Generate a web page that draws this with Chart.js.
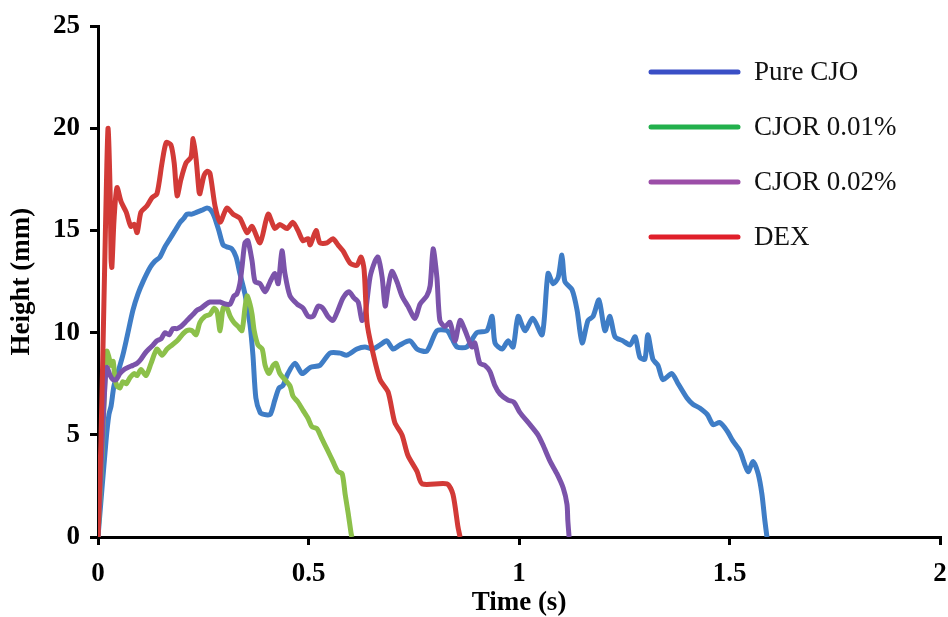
<!DOCTYPE html>
<html>
<head>
<meta charset="utf-8">
<title>Height vs time</title>
<script src="https://cdn.jsdelivr.net/npm/chart.js@4.4.1/dist/chart.umd.min.js"></script>
<style>
  html, body { margin: 0; padding: 0; background: #fff; }
  #wrap { width: 948px; height: 617px; position: relative; }
</style>
</head>
<body>
<div id="wrap"><canvas id="heightChart"></canvas></div>
<script>
// series names, line colours, legend swatch colours
const seriesNames = ['Pure CJO', 'CJOR 0.01%', 'CJOR 0.02%', 'DEX'];
const lineColors = ['#3f7dc6', '#8cc04a', '#7b53aa', '#d23a37'];
const legendColors = ['#3a4fc6', '#22b04c', '#9c4ea8', '#e01f2a'];

const timeTicks = ['0', '0.5', '1', '1.5', '2'];
const heightTicks = ['0', '5', '10', '15', '20', '25'];

// Pure CJO
const cjoTime = [0, 0.019, 0.026, 0.031, 0.038, 0.048, 0.059, 0.069, 0.083, 0.095, 0.107, 0.124, 0.135, 0.147, 0.159, 0.171, 0.183, 0.195, 0.204, 0.211, 0.223, 0.235, 0.247, 0.259, 0.268, 0.276, 0.287, 0.297, 0.306, 0.318, 0.328, 0.337, 0.349, 0.361, 0.368, 0.375, 0.385, 0.394, 0.409, 0.420, 0.430, 0.439, 0.451, 0.468, 0.485, 0.504, 0.527, 0.551, 0.575, 0.591, 0.615, 0.634, 0.653, 0.670, 0.686, 0.701, 0.717, 0.741, 0.758, 0.781, 0.805, 0.829, 0.841, 0.853, 0.876, 0.900, 0.924, 0.936, 0.943, 0.960, 0.974, 0.986, 0.998, 1.014, 1.033, 1.055, 1.069, 1.081, 1.093, 1.102, 1.109, 1.126, 1.138, 1.150, 1.164, 1.176, 1.190, 1.204, 1.216, 1.228, 1.247, 1.264, 1.276, 1.287, 1.299, 1.306, 1.318, 1.330, 1.342, 1.363, 1.378, 1.399, 1.413, 1.430, 1.447, 1.461, 1.477, 1.494, 1.508, 1.525, 1.544, 1.556, 1.568, 1.577, 1.584, 1.589];
const cjoHeight = [0, 4.7, 6.0, 6.4, 7.4, 8.1, 8.9, 9.8, 11.1, 11.9, 12.5, 13.2, 13.5, 13.7, 14.2, 14.6, 15.0, 15.4, 15.6, 15.8, 15.8, 15.9, 16.0, 16.1, 16.0, 15.7, 15.0, 14.3, 14.2, 14.1, 13.7, 12.9, 11.9, 10.4, 8.9, 6.8, 6.1, 6.0, 6.0, 6.7, 7.3, 7.4, 8.0, 8.5, 8.0, 8.3, 8.4, 9.0, 9.0, 8.9, 9.2, 9.3, 9.2, 9.4, 9.6, 9.2, 9.4, 9.6, 9.2, 9.1, 10.1, 10.1, 9.7, 9.3, 9.3, 10.0, 10.1, 10.8, 9.5, 9.2, 9.6, 9.3, 10.8, 10.1, 10.7, 9.9, 12.9, 12.4, 12.7, 13.8, 12.5, 12.1, 11.1, 9.5, 10.6, 10.8, 11.6, 10.1, 10.8, 9.8, 9.6, 9.4, 9.8, 8.8, 8.7, 9.9, 8.7, 8.4, 7.7, 8.0, 7.5, 6.8, 6.5, 6.3, 6.0, 5.5, 5.6, 5.2, 4.7, 4.2, 3.2, 3.7, 3.1, 2.1, 0.8, 0];

// CJOR 0.01%
const cjor1Time = [0, 0.010, 0.017, 0.021, 0.026, 0.031, 0.036, 0.040, 0.045, 0.052, 0.059, 0.067, 0.076, 0.086, 0.093, 0.102, 0.114, 0.126, 0.140, 0.152, 0.164, 0.176, 0.188, 0.200, 0.211, 0.223, 0.233, 0.242, 0.254, 0.266, 0.276, 0.283, 0.290, 0.297, 0.304, 0.314, 0.323, 0.333, 0.342, 0.349, 0.354, 0.361, 0.366, 0.371, 0.380, 0.390, 0.397, 0.406, 0.416, 0.423, 0.432, 0.444, 0.456, 0.463, 0.475, 0.487, 0.499, 0.508, 0.520, 0.532, 0.544, 0.558, 0.570, 0.580, 0.587, 0.594, 0.601, 0.603];
const cjor1Height = [0, 4.2, 8.0, 9.1, 8.8, 8.4, 8.6, 7.8, 7.4, 7.3, 7.6, 7.5, 7.8, 8.0, 7.9, 8.2, 7.9, 8.5, 9.2, 8.9, 9.2, 9.4, 9.6, 9.9, 10.1, 10.1, 9.9, 10.5, 10.8, 10.9, 11.2, 11.0, 10.1, 11.2, 11.3, 10.8, 10.5, 10.3, 10.1, 11.2, 11.8, 11.4, 10.9, 10.1, 9.4, 9.2, 8.4, 8.0, 8.4, 8.5, 8.0, 7.7, 7.4, 6.9, 6.6, 6.2, 5.8, 5.4, 5.3, 4.8, 4.3, 3.7, 3.2, 3.1, 2.1, 1.2, 0.2, 0];

// CJOR 0.02%
const cjor2Time = [0, 0.010, 0.017, 0.021, 0.029, 0.036, 0.043, 0.052, 0.062, 0.071, 0.083, 0.093, 0.102, 0.112, 0.121, 0.131, 0.140, 0.150, 0.159, 0.169, 0.178, 0.188, 0.197, 0.207, 0.216, 0.226, 0.235, 0.245, 0.257, 0.266, 0.278, 0.290, 0.302, 0.314, 0.323, 0.330, 0.337, 0.342, 0.349, 0.356, 0.366, 0.373, 0.385, 0.397, 0.409, 0.420, 0.428, 0.437, 0.444, 0.456, 0.473, 0.487, 0.499, 0.511, 0.523, 0.534, 0.546, 0.558, 0.570, 0.582, 0.596, 0.608, 0.618, 0.627, 0.634, 0.646, 0.658, 0.665, 0.675, 0.682, 0.689, 0.698, 0.710, 0.722, 0.736, 0.753, 0.765, 0.781, 0.789, 0.796, 0.805, 0.812, 0.824, 0.836, 0.848, 0.860, 0.872, 0.888, 0.895, 0.907, 0.919, 0.931, 0.943, 0.955, 0.974, 0.988, 1.002, 1.026, 1.045, 1.057, 1.074, 1.090, 1.105, 1.114, 1.116, 1.119];
const cjor2Height = [0, 4.7, 7.6, 8.3, 7.9, 7.7, 7.7, 8.0, 8.2, 8.3, 8.4, 8.5, 8.7, 9.0, 9.2, 9.4, 9.6, 9.7, 10.0, 9.9, 10.2, 10.2, 10.3, 10.5, 10.7, 10.9, 11.1, 11.2, 11.4, 11.5, 11.5, 11.5, 11.4, 11.4, 11.8, 11.9, 12.4, 13.2, 14.4, 14.5, 13.5, 12.5, 12.4, 12.0, 12.5, 12.9, 12.4, 14.0, 12.9, 11.8, 11.4, 11.2, 10.8, 10.8, 11.3, 11.2, 10.8, 10.6, 11.1, 11.7, 12.0, 11.7, 11.5, 10.6, 10.8, 12.7, 13.5, 13.7, 12.7, 11.3, 12.2, 13.0, 12.5, 11.8, 11.3, 10.7, 11.4, 11.8, 12.3, 14.1, 12.7, 10.6, 10.3, 10.5, 9.6, 10.6, 10.1, 9.3, 9.5, 8.5, 8.4, 8.1, 7.4, 7.0, 6.7, 6.6, 6.1, 5.5, 5.0, 4.5, 3.7, 3.1, 2.4, 1.6, 0.8, 0];

// DEX
const dexTime = [0, 0.007, 0.014, 0.021, 0.024, 0.029, 0.031, 0.033, 0.038, 0.045, 0.055, 0.067, 0.078, 0.086, 0.093, 0.102, 0.116, 0.128, 0.140, 0.152, 0.162, 0.173, 0.181, 0.188, 0.197, 0.209, 0.221, 0.226, 0.233, 0.240, 0.242, 0.252, 0.259, 0.266, 0.278, 0.290, 0.306, 0.321, 0.337, 0.354, 0.366, 0.385, 0.404, 0.420, 0.432, 0.449, 0.463, 0.475, 0.487, 0.499, 0.504, 0.518, 0.527, 0.544, 0.558, 0.570, 0.582, 0.599, 0.615, 0.625, 0.632, 0.639, 0.651, 0.670, 0.689, 0.705, 0.722, 0.736, 0.758, 0.770, 0.829, 0.843, 0.855, 0.860];
const dexHeight = [0, 4.7, 11.4, 18.2, 20.0, 16.7, 13.6, 13.2, 15.5, 17.1, 16.4, 15.9, 15.2, 15.3, 14.9, 15.9, 16.2, 16.6, 16.8, 18.3, 19.3, 19.2, 18.3, 16.7, 17.5, 18.3, 18.6, 19.5, 18.5, 16.9, 16.8, 17.7, 17.9, 17.8, 16.2, 15.4, 16.1, 15.8, 15.6, 14.9, 15.2, 14.4, 15.8, 15.1, 15.3, 15.1, 15.4, 15.0, 14.5, 14.6, 14.3, 15.0, 14.4, 14.4, 14.6, 14.3, 14.0, 13.4, 13.3, 13.7, 13.1, 10.5, 9.2, 7.7, 7.1, 5.6, 5.0, 4.0, 3.2, 2.6, 2.6, 2.1, 0.5, 0];

const seriesTimes = [cjoTime, cjor1Time, cjor2Time, dexTime];
const seriesHeights = [cjoHeight, cjor1Height, cjor2Height, dexHeight];

const serif = "'Liberation Serif', 'Times New Roman', serif";

function toPoints(times, heights) {
    return times.map((t, i) => ({ x: t, y: heights[i] }));
}

// legend drawn inside the plot, swatch colours differ from the line colours
const sideLegend = {
    id: 'sideLegend',
    afterDraw(chart) {
        const ctx = chart.ctx;
        ctx.save();
        ctx.font = `27px ${serif}`;
        ctx.textBaseline = 'middle';
        ctx.textAlign = 'left';
        ctx.lineCap = 'round';
        ctx.lineWidth = 5;
        seriesNames.forEach((name, i) => {
            const y = 72 + i * 55;
            ctx.strokeStyle = legendColors[i];
            ctx.beginPath();
            ctx.moveTo(651, y);
            ctx.lineTo(738, y);
            ctx.stroke();
            ctx.fillStyle = '#111';
            ctx.fillText(name, 754, y + 1);
        });
        ctx.restore();
    }
};

const datasets = seriesNames.map((name, i) => ({
    label: name,
    data: toPoints(seriesTimes[i], seriesHeights[i]),
    borderColor: lineColors[i],
    backgroundColor: lineColors[i],
    borderWidth: 5,
    pointRadius: 0,
    tension: 0.25,
    fill: false,
    order: seriesNames.length - i
}));

const axisGrid = {
    display: true,
    drawOnChartArea: false,
    drawTicks: true,
    tickLength: 8,
    color: '#000',
    lineWidth: 3
};

const tickFont = { family: serif, size: 27, weight: 'bold' };

new Chart(document.getElementById('heightChart'), {
    type: 'line',
    data: { datasets },
    plugins: [sideLegend],
    options: {
        responsive: true,
        maintainAspectRatio: false,
        animation: false,
        layout: { padding: { top: 18, right: 8, left: 0, bottom: 0 } },
        plugins: {
            legend: { display: false },
            tooltip: { enabled: false }
        },
        scales: {
            x: {
                type: 'linear',
                min: 0,
                max: 2,
                afterFit: (scale) => {
                    scale.height = 80;
                    scale.paddingRight = 0;
                },
                border: { display: true, color: '#000', width: 3 },
                grid: axisGrid,
                ticks: {
                    stepSize: 0.5,
                    padding: 13,
                    color: '#000',
                    font: tickFont,
                    maxRotation: 0,
                    callback: (v) => timeTicks[Math.round(v / 0.5)]
                },
                title: {
                    display: true,
                    text: 'Time (s)',
                    color: '#000',
                    padding: { top: 0, bottom: -2 },
                    font: tickFont
                }
            },
            y: {
                type: 'linear',
                min: 0,
                max: 25,
                afterFit: (scale) => { scale.width = 98; },
                border: { display: true, color: '#000', width: 3 },
                grid: axisGrid,
                ticks: {
                    stepSize: 5,
                    padding: 10,
                    color: '#000',
                    font: tickFont,
                    callback: (v) => heightTicks[Math.round(v / 5)]
                },
                title: {
                    display: true,
                    text: 'Height (mm)',
                    color: '#000',
                    padding: { top: 6, bottom: 0 },
                    font: tickFont
                }
            }
        }
    }
});
</script>
</body>
</html>
